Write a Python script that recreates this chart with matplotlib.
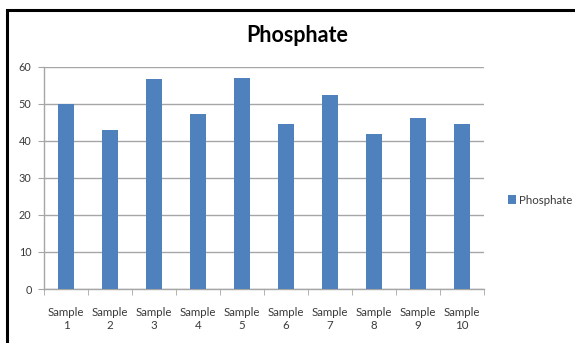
import numpy as np
import matplotlib
matplotlib.use("Agg")
import matplotlib.pyplot as plt
from matplotlib.patches import Rectangle

plt.rcParams['font.family'] = ['Lato', 'DejaVu Sans']

# phosphate readings per sample
samples = ["Sample\n%d" % i for i in range(1, 11)]
phosphate = [50.0, 43.0, 56.6, 47.2, 56.9, 44.6, 52.3, 41.9, 46.0, 44.5]
yticks = [0, 10, 20, 30, 40, 50, 60]

BAR = "#4F81BD"
GRID = "#a6a6a6"
TXT = "#3a3a3a"

W, H = 575, 343
fig = plt.figure(figsize=(W / 100, H / 100), dpi=100)
fig.patch.set_facecolor("white")

# chart frame
fig.patches.append(Rectangle((7 / W, -0.05), 1.1, 1 - 10 / H + 0.05,
                             transform=fig.transFigure, fill=False,
                             edgecolor="black", linewidth=2.2))

ax = fig.add_axes([44 / W, 1 - 289 / H, 440 / W, (289 - 66.5) / H])
x = np.arange(len(samples))
ax.bar(x, phosphate, width=0.38, color=BAR, label="Phosphate", zorder=3)

ax.set_xlim(-0.5, len(samples) - 0.5)
ax.set_ylim(0, 60)
ax.set_yticks(yticks)
ax.yaxis.grid(True, color=GRID, linewidth=1.0, zorder=0)

ax.set_xticks(x)
ax.set_xticklabels(samples, fontsize=8.3, color=TXT, linespacing=1.25)
ax.set_xticks(np.arange(-0.5, len(samples) + 0.5, 1.0), minor=True)
ax.tick_params(axis="x", which="major", length=0, pad=13)
ax.tick_params(axis="x", which="minor", length=4, color=GRID, direction="out")
ax.tick_params(axis="y", length=4, color=GRID, labelsize=7.8,
               labelcolor=TXT, pad=5)

for side in ("top", "right"):
    ax.spines[side].set_visible(False)
for side in ("left", "bottom"):
    ax.spines[side].set_color(GRID)
    ax.spines[side].set_linewidth(1.0)

fig.text(297 / W, 1 - 35 / H, "Phosphate", ha="center", va="center",
         fontsize=15.5, fontweight="bold", color="black")

fig.legend(loc="center left", bbox_to_anchor=(503 / W, 1 - 200 / H),
           frameon=False, fontsize=8.3, handlelength=0.7, handleheight=0.7,
           handletextpad=0.25, borderaxespad=0, labelcolor=TXT)

fig.savefig("out.png", dpi=100)
